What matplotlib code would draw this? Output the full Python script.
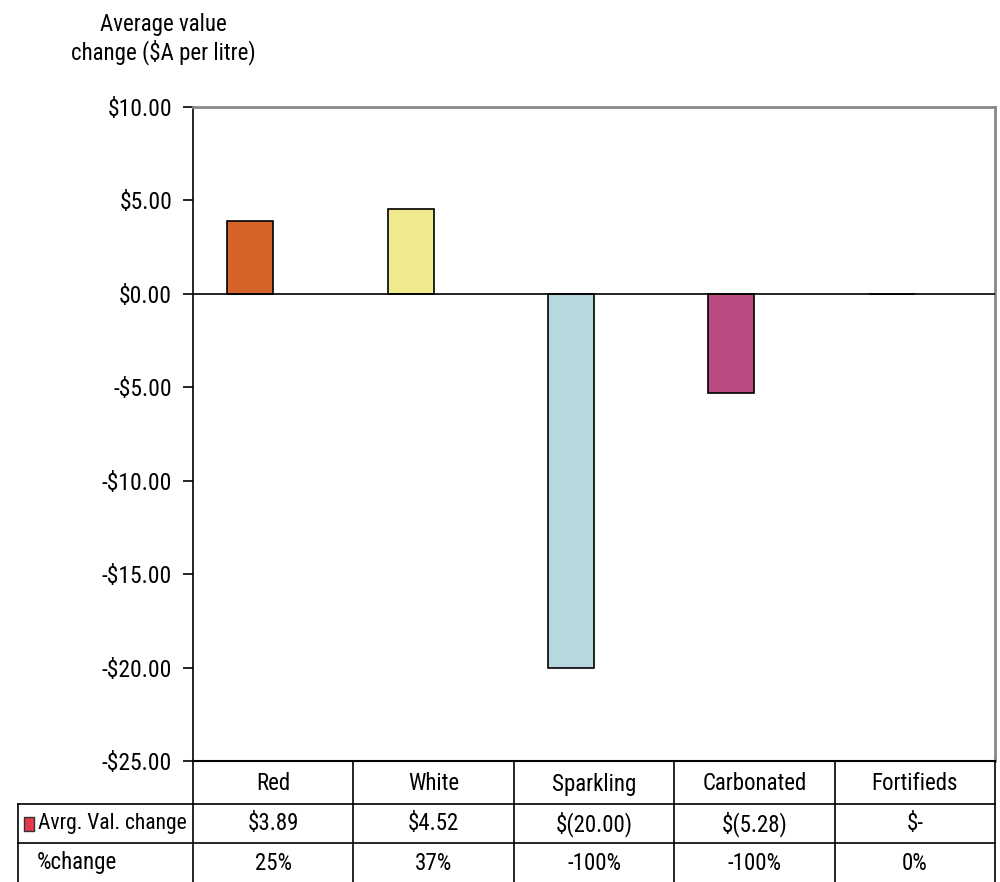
import matplotlib
matplotlib.use("Agg")
import matplotlib.pyplot as plt
from matplotlib.transforms import blended_transform_factory
from matplotlib.patches import Rectangle
import numpy as np

# data
categories = ["Red", "White", "Sparkling", "Carbonated", "Fortifieds"]
avg_val_change = [3.89, 4.52, -20.00, -5.28, 0.00]
pct_change = ["25%", "37%", "-100%", "-100%", "0%"]
bar_colors = ["#D6632A", "#F0EA8E", "#B6D8DF", "#B94B80", "#FFFFFF"]
yticks = [-25, -20, -15, -10, -5, 0, 5, 10]

plt.rcParams["font.family"] = ["Roboto Condensed", "Archivo Narrow", "Liberation Sans", "DejaVu Sans"]

W, H = 1000, 882
fig = plt.figure(figsize=(W / 100, H / 100), dpi=100)

def fx(px):
    return px / W

def fy(py):
    return 1 - py / H

# plot area in pixels
left, right, top, bottom = 193, 995, 107, 761
ax = fig.add_axes([fx(left), fy(bottom), fx(right - left), (bottom - top) / H])

x = np.arange(len(categories))
ax.bar(x, avg_val_change, width=-0.287, align="edge", color=bar_colors,
       edgecolor="black", linewidth=1.2, zorder=2)
ax.axhline(0, color="black", linewidth=1.2, zorder=3)

ax.set_xlim(-0.5, len(categories) - 0.5)
ax.set_ylim(-25, 10)
ax.set_xticks([])
ax.set_yticks(yticks)

def money(v, pos=None):
    return f"-${abs(v):.2f}" if v < 0 else f"${v:.2f}"

ax.yaxis.set_major_formatter(plt.FuncFormatter(money))
ax.tick_params(axis="y", direction="out", length=7, width=1.2, pad=8,
               labelsize=17, color="black")

for side in ["top", "right"]:
    ax.spines[side].set_color("#888888")
    ax.spines[side].set_linewidth(2)
ax.spines["left"].set_color("black")
ax.spines["left"].set_linewidth(1.2)
ax.spines["bottom"].set_color("black")
ax.spines["bottom"].set_linewidth(1.5)

fig.text(fx(163), fy(39), "Average value\nchange ($A per litre)", ha="center",
         va="center", fontsize=16.5, linespacing=1.2)

# data table under the axis
tr = blended_transform_factory(ax.transData, fig.transFigure)
row_lines = [804, 843]
lw = 1.2
for yl in row_lines:
    fig.add_artist(plt.Line2D([fx(18), fx(right)], [fy(yl), fy(yl)],
                              color="black", linewidth=lw))
for b in np.arange(len(categories) + 1) - 0.5:
    fig.add_artist(plt.Line2D([b, b], [fy(bottom), 0], color="black",
                              linewidth=lw, transform=tr))
fig.add_artist(plt.Line2D([fx(18), fx(18)], [fy(804), 0], color="black",
                          linewidth=lw))

def acct(v):
    if v == 0:
        return "$-"
    if v < 0:
        return f"$({abs(v):.2f})"
    return f"${v:.2f}"

for i, cat in enumerate(categories):
    fig.text(x[i], fy(784), cat, ha="center", va="center", fontsize=16.5, transform=tr)
    fig.text(x[i], fy(824), acct(avg_val_change[i]), ha="center", va="center",
             fontsize=16.5, transform=tr)
    fig.text(x[i], fy(863), pct_change[i], ha="center", va="center",
             fontsize=16.5, transform=tr)

fig.add_artist(Rectangle((fx(24), fy(831)), fx(10), (831 - 817) / H,
                         facecolor="#E63A4C", edgecolor="#333333", linewidth=1,
                         transform=fig.transFigure))
fig.text(fx(38), fy(824), "Avrg. Val. change", ha="left", va="center", fontsize=15.5)
fig.text(fx(37), fy(863), "%change", ha="left", va="center", fontsize=16.5)

fig.savefig("out.png", dpi=100)
